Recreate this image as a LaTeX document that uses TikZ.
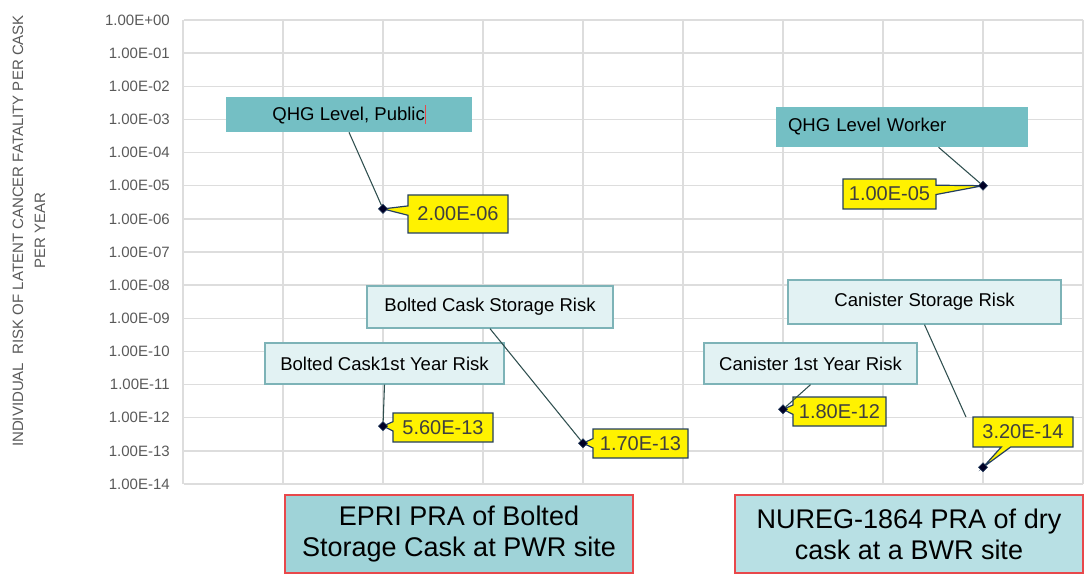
\documentclass[tikz,border=0pt]{standalone}
\usepackage{fontspec}
\setmainfont{Liberation Sans}
\usepackage{tikz}
\usetikzlibrary{shapes.geometric,shapes.callouts}

\definecolor{qhgteal}{HTML}{74BFC4}
\definecolor{riskfill}{HTML}{E2F2F3}
\definecolor{riskline}{HTML}{7DB3B7}
\definecolor{valline}{HTML}{243F60}
\definecolor{valtext}{HTML}{3F3F3F}
\definecolor{leadcol}{HTML}{2F4F4F}
\definecolor{eprifill}{HTML}{9FD3D8}
\definecolor{nuregfill}{HTML}{B8E0E4}
\definecolor{redline}{HTML}{E8484B}
\definecolor{gridgray}{HTML}{DDDDDD}
\definecolor{ticktext}{HTML}{595959}

\begin{document}
\begin{tikzpicture}
[x=0.75pt,y=-0.75pt,
 qhg/.style={fill=qhgteal,inner sep=0pt,font=\fontsize{13.9}{16}\selectfont},
 riskbox/.style={fill=riskfill,draw=riskline,line width=1pt,inner sep=0pt,font=\fontsize{13.9}{16}\selectfont},
 val/.style={rectangle callout,fill=yellow,draw=valline,line width=0.9pt,inner sep=0pt,text=valtext,
   callout pointer width=7pt,font=\fontsize{15}{18}\selectfont},
 datapt/.style={diamond,fill=black!85!blue,draw=valline,line width=0.4pt,inner sep=0pt,minimum size=7pt},
 site/.style={draw=redline,line width=0.9pt,align=center,inner sep=0pt,minimum width=261pt,minimum height=58.5pt,
   font=\fontsize{20.25}{23.25}\selectfont},
 ticklab/.style={anchor=east,text=ticktext,inner sep=0pt,font=\fontsize{11.25}{13}\selectfont},
 leader/.style={draw=leadcol,line width=0.8pt}]
\useasboundingbox (0,0) rectangle (1086,574);

% grid
\foreach \k in {0,...,14}
\draw[gridgray,line width=1.1pt] (184,{20+33.1429*\k}) -- (1083,{20+33.1429*\k});
\foreach \i in {0,...,9}
\draw[gridgray,line width=1.1pt] ({183+100*\i},20) -- ({183+100*\i},484);

% axis labels
\foreach \k/\lab in {0/+00,1/-01,2/-02,3/-03,4/-04,5/-05,6/-06,7/-07,8/-08,9/-09,10/-10,11/-11,12/-12,13/-13,14/-14}
\node[ticklab] (t\k) at (170,{20+33.1429*\k}) {1.00E\lab};
\node[rotate=90,align=center,text=ticktext,font=\fontsize{11.25}{16.5}\selectfont] (ylab) at (29,231)
{INDIVIDUAL\ \ RISK OF LATENT CANCER FATALITY PER CASK\\PER YEAR};

% data points
\coordinate (p1) at (383,208.9);
\coordinate (p2) at (983,185.7);
\coordinate (p3) at (383,426.1);
\coordinate (p4) at (583,443.2);
\coordinate (p5) at (783,409.3);
\coordinate (p6) at (983,467.3);
\coordinate (e6) at (966,417);

% label boxes
\node[qhg,minimum width=184.5pt,minimum height=26.25pt] (qpub) at (349,114.5)
{QHG Level, Public{\color{redline}\rule[-0.2em]{0.5pt}{1em}}};
\node[qhg,minimum width=189pt,minimum height=30pt,inner xsep=9pt,text width=171pt,align=left] (qwrk) at (902,127) {QHG Level Worker};
\node[riskbox,minimum width=184.5pt,minimum height=31.5pt] (bstor) at (490,307) {Bolted Cask Storage Risk};
\node[riskbox,minimum width=179.25pt,minimum height=30.75pt] (b1st) at (384.5,363.5) {Bolted Cask1st Year Risk};
\node[riskbox,minimum width=204.75pt,minimum height=33pt] (cstor) at (924.5,302) {Canister Storage Risk};
\node[riskbox,minimum width=159.75pt,minimum height=30.75pt] (c1st) at (810.5,363.5) {Canister 1st Year Risk};

% value callouts
\node[val,minimum width=75pt,minimum height=28.5pt,callout absolute pointer={(p1)}] (v1) at (458,214) {2.00E-06};
\node[val,minimum width=69.75pt,minimum height=22.5pt,callout absolute pointer={(p2)}] (v2) at (889.5,194) {1.00E-05};
\node[val,minimum width=75pt,minimum height=21.75pt,callout absolute pointer={(p3)}] (v3) at (443,427.5) {5.60E-13};
\node[val,minimum width=71.25pt,minimum height=21.75pt,callout absolute pointer={(p4)}] (v4) at (640.5,443.5) {1.70E-13};
\node[val,minimum width=69.75pt,minimum height=21.75pt,callout absolute pointer={(p5)}] (v5) at (839.5,411.5) {1.80E-12};
\node[val,minimum width=75pt,minimum height=22.5pt,callout absolute pointer={(p6)}] (v6) at (1023,432) {3.20E-14};

\node[datapt] (d1) at (p1) {};
\node[datapt] (d2) at (p2) {};
\node[datapt] (d3) at (p3) {};
\node[datapt] (d4) at (p4) {};
\node[datapt] (d5) at (p5) {};
\node[datapt] (d6) at (p6) {};

\foreach \from/\to in {qpub.south/d1,qwrk.-29/d2,bstor.south/d4,b1st.south/d3,cstor.south/e6,c1st.south/d5}
\draw[leader] (\from) -- (\to);

% categories
\node[site,fill=eprifill] (epri) at (459,534) {EPRI PRA of Bolted\\Storage Cask at PWR site};
\node[site,fill=nuregfill] (nureg) at (909,534) {NUREG-1864 PRA of dry\\cask at a BWR site};
\end{tikzpicture}
\end{document}
